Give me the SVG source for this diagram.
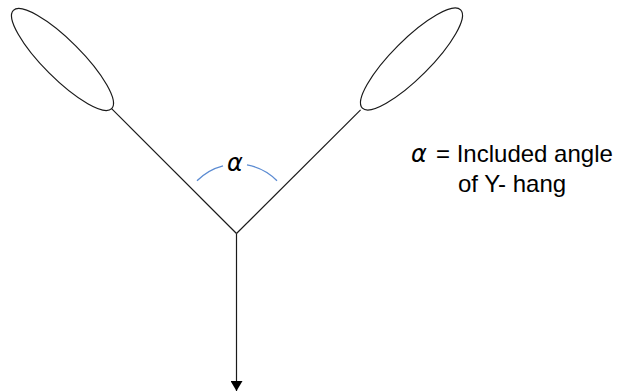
<svg xmlns="http://www.w3.org/2000/svg" width="628" height="392" viewBox="0 0 628 392">
<defs>
<style>
.ln{stroke:#1a1a1a;stroke-width:1.2;fill:none}
.arc{stroke:#5b8bd2;stroke-width:1.3;fill:none}
.t{font-family:"Liberation Sans",Arial,sans-serif;font-size:24px;fill:#000}
.al{font-family:"DejaVu Sans","Liberation Sans",sans-serif;font-style:italic;font-size:24px;fill:#000}
</style>
<marker id="ah" viewBox="0 0 10 12" refX="10" refY="6" markerWidth="10" markerHeight="12" markerUnits="userSpaceOnUse" orient="auto">
<path d="M0,0 L10,6 L0,12 Z" fill="#000"/>
</marker>
</defs>
<rect width="628" height="392" fill="#fff"/>
<g id="loop-left">
<ellipse class="ln" cx="62.5" cy="59.5" rx="69.5" ry="19" transform="rotate(45 62.5 59.5)"/>
</g>
<g id="loop-right">
<ellipse class="ln" cx="411.5" cy="59" rx="69.5" ry="19" transform="rotate(-45 411.5 59)"/>
</g>
<g id="connectors">
<line class="ln" x1="111.6" y1="108.6" x2="236.5" y2="233.5"/>
<line class="ln" x1="360.6" y1="109.9" x2="236.5" y2="233.5"/>
<line class="ln" x1="236.5" y1="233.5" x2="236.5" y2="391" marker-end="url(#ah)"/>
</g>
<g id="angle">
<path class="arc" d="M197,180.8 A56,56 0 0 1 223,165.8"/>
<path class="arc" d="M247,164.9 A56,56 0 0 1 277,180.8"/>
<text class="al" x="235" y="171" text-anchor="middle">α</text>
</g>
<g id="legend">
<text class="al" x="411" y="162">α</text>
<text class="t" x="436" y="162">= Included angle</text>
<text class="t" x="458" y="192">of Y- hang</text>
</g>
</svg>
